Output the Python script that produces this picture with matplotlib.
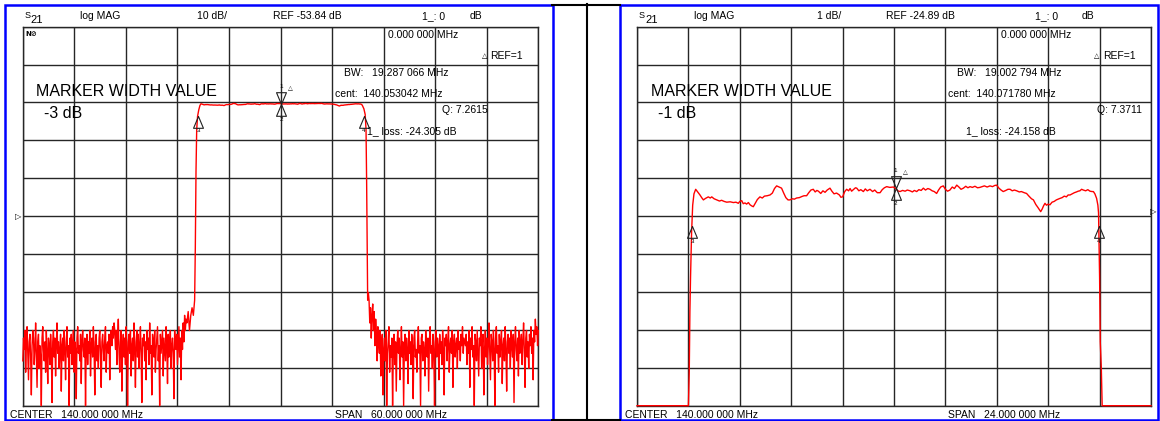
import numpy as np
import matplotlib.pyplot as plt
from matplotlib.patches import Rectangle

plt.rcParams['font.family'] = ['Liberation Sans', 'DejaVu Sans']

W, H = 1160, 421

# analyzer settings of the two screens (wide sweep, narrow sweep)
centers = [140.0, 140.0]
spans = [60.0, 24.0]
scales = [10.0, 1.0]
refs = [-53.84, -24.89]
scale_labels = ['10 dB/', '1 dB/']
ref_labels = ['REF -53.84 dB', 'REF -24.89 dB']
span_labels = ['SPAN   60.000 000 MHz', 'SPAN   24.000 000 MHz']
center_labels = ['CENTER   140.000 000 MHz', 'CENTER   140.000 000 MHz']
bw_labels = ['BW:   19.287 066 MHz', 'BW:   19.002 794 MHz']
cent_labels = ['cent:  140.053042 MHz', 'cent:  140.071780 MHz']
q_labels = ['Q: 7.2615', 'Q: 7.3711']
loss_labels = ['1_ loss: -24.305 dB', '1_ loss: -24.158 dB']
width_labels = ['-3 dB', '-1 dB']

# noise floor below the passband (wide sweep, 110 .. 129 MHz)
noise_lo_db = [-92, -86, -89, -84, -95, -88, -83, -90, -97, -87, -85, -91, -101, -88, -84, -86,
               -93, -89, -82, -90, -99, -87, -85, -94, -88, -91, -104, -86, -83, -89, -92, -87,
               -95, -84, -90, -98, -86, -88, -93, -85, -89, -103, -87, -84, -91, -86, -96, -88,
               -82, -90, -87, -94, -89, -85, -100, -88, -86, -92, -84, -89, -97, -87, -83, -91,
               -88, -104, -86, -90, -85, -93, -88, -84, -95, -87, -89, -102, -86, -83, -90, -88,
               -92, -85, -98, -87, -84, -89, -91, -86, -104, -88, -85, -93, -87, -90, -84, -96,
               -88, -86, -91, -83, -89, -101, -87, -85, -92, -88, -94, -86, -84, -90, -99, -87,
               -85, -89, -92, -86, -83, -95, -88, -87, -90, -85, -97, -86, -84, -88, -83, -86,
               -82, -84,
               -89, -84, -93, -86, -81, -90, -95, -87, -84, -100, -88, -85, -91, -86, -93, -83,
               -89, -104, -87, -85, -90, -84, -96, -88, -86, -92, -82, -89, -99, -87, -84, -91,
               -85, -94, -88, -83, -90, -103, -86, -88, -85, -92, -87, -97, -84, -89, -86, -93,
               -82, -90, -88, -101, -85, -87, -91, -84, -95, -89, -86, -83, -92, -88, -104, -85,
               -90, -87, -84, -96, -86, -89, -92, -83, -88, -98, -85, -91, -87, -84, -94, -88,
               -86, -90, -102, -84, -87, -89, -85, -93, -88, -83, -91, -86, -97, -84, -89, -82,
               -87, -80, -84, -81]

# noise floor above the passband (wide sweep, 150.3 .. 170 MHz)
noise_hi_db = [-76, -82, -78, -86, -80, -77, -84, -79, -88, -81, -85, -92, -83, -87, -90, -84,
               -96, -88, -85, -101, -89, -86, -92, -84, -104, -90, -87, -83, -95, -88, -91, -86,
               -104, -89, -85, -93, -87, -100, -88, -84, -90, -86, -97, -89, -83, -91, -87, -104,
               -88, -85, -92, -86, -89, -98, -84, -90, -87, -93, -85, -88, -102, -86, -84, -91,
               -89, -95, -87, -83, -90, -88, -104, -86, -85, -92, -87, -89, -96, -84, -88, -91,
               -86, -100, -87, -83, -90, -88, -94, -85, -89, -104, -87, -84, -91, -86, -88, -97,
               -85, -90, -87, -93, -84, -89, -101, -86, -88, -85, -92, -87, -83, -95, -88, -86,
               -90, -84, -99, -87, -85, -91, -88, -86, -94, -84, -89, -87, -92, -85, -88, -83,
               -90, -86, -87,
               -88, -85, -93, -87, -90, -84, -99, -86, -89, -83, -91, -88, -104, -85, -87, -92,
               -84, -90, -96, -86, -88, -83, -94, -87, -85, -101, -89, -84, -91, -86, -93, -88,
               -82, -90, -97, -85, -87, -92, -84, -89, -104, -86, -83, -90, -88, -95, -85, -91,
               -87, -84, -98, -88, -86, -92, -83, -89, -100, -87, -85, -90, -86, -94, -84, -88,
               -91, -85, -103, -87, -83, -89, -92, -86, -96, -84, -90, -88, -85, -93, -87, -82,
               -89, -99, -86, -84, -91, -87, -94, -85, -88, -83, -90, -86, -97, -84, -87, -81,
               -85, -83, -88, -84]

# skirts of the wide sweep
wide_rise_f = [129.10, 129.25, 129.40, 129.55, 129.70, 129.85, 130.00, 130.08, 130.16, 130.24,
               130.34, 130.48, 130.62]
wide_rise_db = [-82, -79, -84, -80, -78, -80, -76, -62, -42, -31, -27.5, -25.8, -24.6]
wide_fall_f = [149.70, 149.85, 149.95, 150.02, 150.08, 150.14, 150.22]
wide_fall_db = [-25.5, -27.0, -31, -45, -62, -76, -74]

# passband ripple (read from the 1 dB/div screen)
pass_f = [130.74, 130.82, 130.94, 131.02, 131.10, 131.20, 131.33, 131.42, 131.49, 131.60,
          131.72, 131.85, 131.95, 132.07, 132.19, 132.35, 132.50, 132.62, 132.73, 132.80,
          132.89, 132.96, 133.04, 133.12, 133.20, 133.28, 133.36, 133.43, 133.52, 133.62,
          133.74, 133.85, 133.95, 134.08, 134.21, 134.32, 134.42, 134.52, 134.60, 134.68,
          134.75, 134.85, 134.95, 135.05, 135.14, 135.25, 135.35, 135.45, 135.58, 135.70,
          135.80, 135.92, 136.02, 136.12, 136.23, 136.32, 136.40, 136.47, 136.58, 136.68,
          136.78, 136.88, 137.01, 137.10, 137.20, 137.32, 137.45, 137.52, 137.60, 137.70,
          137.79, 137.88, 137.95, 138.02, 138.12, 138.20, 138.26, 138.36, 138.45, 138.57,
          138.66, 138.75, 138.88, 139.00, 139.10, 139.22, 139.35, 139.45, 139.55, 139.66,
          139.80, 139.97, 140.08, 140.18, 140.28, 140.40, 140.52, 140.62, 140.75, 140.86,
          140.95, 141.06, 141.16, 141.27, 141.37, 141.47, 141.58, 141.68, 141.78, 141.88,
          141.99, 142.08, 142.18, 142.30, 142.40, 142.50, 142.61, 142.72, 142.82, 142.93,
          143.03, 143.13, 143.24, 143.35, 143.45, 143.55, 143.66, 143.78, 143.90, 144.01,
          144.12, 144.22, 144.35, 144.48, 144.60, 144.70, 144.79, 144.90, 145.00, 145.10,
          145.22, 145.32, 145.42, 145.52, 145.62, 145.73, 145.85, 145.95, 146.08, 146.19,
          146.30, 146.42, 146.51, 146.62, 146.72, 146.80, 146.85, 146.92, 146.98, 147.05,
          147.12, 147.20, 147.28, 147.38, 147.48, 147.58, 147.66, 147.75, 147.85, 147.95,
          148.05, 148.13, 148.22, 148.32, 148.42, 148.52, 148.60, 148.68, 148.76, 148.84,
          148.95, 149.05, 149.15, 149.25, 149.31, 149.38, 149.46, 149.52]
pass_db = [-24.18, -24.24, -24.33, -24.40, -24.46, -24.42, -24.38, -24.41, -24.38, -24.43,
           -24.46, -24.49, -24.47, -24.50, -24.52, -24.51, -24.53, -24.52, -24.55, -24.50,
           -24.48, -24.56, -24.54, -24.57, -24.53, -24.59, -24.62, -24.64, -24.55, -24.45,
           -24.38, -24.41, -24.36, -24.35, -24.33, -24.28, -24.16, -24.09, -24.11, -24.13,
           -24.15, -24.28, -24.40, -24.46, -24.46, -24.43, -24.44, -24.41, -24.40, -24.37,
           -24.35, -24.35, -24.27, -24.20, -24.18, -24.25, -24.21, -24.23, -24.29, -24.22,
           -24.26, -24.20, -24.15, -24.23, -24.30, -24.28, -24.33, -24.39, -24.38, -24.24,
           -24.18, -24.22, -24.16, -24.23, -24.18, -24.14, -24.15, -24.22, -24.19, -24.24,
           -24.17, -24.22, -24.18, -24.24, -24.20, -24.27, -24.27, -24.19, -24.14, -24.11,
           -24.13, -24.12, -24.16, -24.22, -24.24, -24.21, -24.23, -24.20, -24.22, -24.25,
           -24.21, -24.24, -24.19, -24.21, -24.15, -24.20, -24.16, -24.18, -24.22, -24.24,
           -24.29, -24.20, -24.12, -24.09, -24.18, -24.23, -24.20, -24.12, -24.16, -24.07,
           -24.12, -24.18, -24.15, -24.10, -24.14, -24.11, -24.13, -24.10, -24.14, -24.13,
           -24.11, -24.09, -24.12, -24.09, -24.11, -24.08, -24.07, -24.15, -24.20, -24.24,
           -24.21, -24.18, -24.18, -24.22, -24.20, -24.22, -24.25, -24.24, -24.27, -24.29,
           -24.36, -24.43, -24.46, -24.58, -24.66, -24.73, -24.77, -24.70, -24.62, -24.55,
           -24.60, -24.57, -24.59, -24.52, -24.50, -24.46, -24.44, -24.42, -24.40, -24.36,
           -24.38, -24.33, -24.33, -24.30, -24.27, -24.25, -24.23, -24.22, -24.18, -24.20,
           -24.22, -24.19, -24.23, -24.24, -24.24, -24.30, -24.42, -24.60]

# skirts of the narrow sweep
narrow_rise_f = [128.00, 130.30, 130.40, 130.44, 130.47, 130.50, 130.55, 130.60, 130.66]
narrow_rise_db = [-35, -35, -30.5, -29.0, -27.4, -26.5, -25.3, -24.6, -24.3]
narrow_fall_f = [149.55, 149.60, 149.63, 149.68, 149.72, 152.00]
narrow_fall_db = [-24.8, -26.5, -28.2, -28.9, -35, -35]

# markers: 1 center (above), 2 center (below), 3 lower edge, 4 upper edge
marker_f = [[140.053, 140.053, 130.41, 149.70], [140.072, 140.072, 130.57, 149.57]]
marker_db = [[-24.305, -24.305, -27.3, -27.3], [-24.158, -24.158, -25.158, -25.158]]
marker_num = ['1', '2', '3', '4']

wide_f = np.concatenate([np.linspace(110, 129.0, len(noise_lo_db)), wide_rise_f, pass_f,
                         wide_fall_f, np.linspace(150.3, 170, len(noise_hi_db))])
wide_db = np.concatenate([noise_lo_db, wide_rise_db, pass_db, wide_fall_db, noise_hi_db])
narrow_f = np.concatenate([narrow_rise_f, pass_f, narrow_fall_f])
narrow_db = np.concatenate([narrow_rise_db, pass_db, narrow_fall_db])
traces = [(wide_f, wide_db), (narrow_f, narrow_db)]

# screen geometry in pixels
grid_x = [(22.8, 538.3), (637.0, 1151.0)]
grid_y = (26.7, 405.7)
frames = [(5, 4.5, 552.5, 419.5), (620, 4.5, 1158, 419.5)]

fig = plt.figure(figsize=(W / 100, H / 100), dpi=100)
fig.patch.set_facecolor('white')


def fx(x):
    return x / W


def fy(y):
    return 1 - y / H


def txt(x, y, s, size=7.5, **kw):
    fig.text(fx(x), fy(y), s, fontsize=size, va='center', **kw)


up_tri = [(0, 0), (0.42, -1), (-0.42, -1), (0, 0)]
down_tri = [(0, 0), (0.42, 1), (-0.42, 1), (0, 0)]

# cell borders between the two screens
for yy in (4.5, 420):
    fig.add_artist(plt.Line2D([fx(552), fx(620)], [fy(yy), fy(yy)], color='black', lw=1.5))
fig.add_artist(plt.Line2D([fx(587), fx(587)], [fy(4), fy(421)], color='black', lw=1.5))

for i in range(2):
    gx0, gx1 = grid_x[i]
    gw = (gx1 - gx0) / 10
    fl, ft, fr, fb = frames[i]
    fig.add_artist(Rectangle((fx(fl), fy(fb)), fx(fr - fl), (fb - ft) / H, fill=False,
                             edgecolor='#0000ff', lw=1.8, transform=fig.transFigure))

    ax = fig.add_axes([fx(gx0), fy(grid_y[1]), fx(gx1 - gx0), (grid_y[1] - grid_y[0]) / H])
    lo, hi = centers[i] - spans[i] / 2, centers[i] + spans[i] / 2
    bot, top = refs[i] - 5 * scales[i], refs[i] + 5 * scales[i]
    ax.set_xlim(lo, hi)
    ax.set_ylim(bot, top)
    ax.set_xticks(np.linspace(lo, hi, 11))
    ax.set_yticks(np.linspace(bot, top, 11))
    ax.grid(True, color='#262626', lw=1.0)
    ax.tick_params(length=0, labelbottom=False, labelleft=False)
    for sp in ax.spines.values():
        sp.set_color('#262626')
        sp.set_linewidth(1.0)

    f, db = traces[i]
    ax.plot(f, np.clip(db, bot, top), color='#ff0000', lw=1.0, clip_on=False, zorder=3)

    for k in range(4):
        mf, md = marker_f[i][k], marker_db[i][k]
        if k == 0:
            ax.plot(mf, md, marker=down_tri, ms=17, mfc='none', mec='#202020', mew=0.8,
                    ls='none', zorder=5)
            ax.annotate('1', (mf, md), xytext=(0, 11), textcoords='offset points', fontsize=4.5,
                        ha='center', va='bottom')
            ax.annotate('\u25b3', (mf, md), xytext=(5, 10), textcoords='offset points',
                        fontsize=4.5, ha='left', va='bottom', family='DejaVu Sans')
        else:
            ax.plot(mf, md, marker=up_tri, ms=17, mfc='none', mec='#202020', mew=0.8,
                    ls='none', zorder=5)
            ax.annotate(marker_num[k], (mf, md), xytext=(0, -9), textcoords='offset points',
                        fontsize=4.5, ha='center', va='top')

    def at(d):
        return gx0 + d * gw

    # header line
    txt(gx0 + 2, 15, 'S', 6.5)
    txt(gx0 + 8, 20, '21', 8)
    txt(at(1.1), 16, 'log MAG')
    txt(at(3.97), 16, scale_labels[i], ha='right')
    txt(at(4.85), 16, ref_labels[i])
    txt(at(7.74), 16, '1_: 0')
    txt(at(8.66), 16, 'dB')

    # marker readout
    txt(at(7.08), 34.5, '0.000 000 MHz')
    txt(at(8.9), 56, '\u25b3', 5, family='DejaVu Sans')
    txt(at(9.06), 56, 'REF=1')
    txt(at(6.23), 73, bw_labels[i])
    txt(at(6.05), 94, cent_labels[i])
    txt(at(8.13) if i == 0 else at(8.95), 110, q_labels[i])
    txt(at(6.68) if i == 0 else at(6.4), 131, loss_labels[i])

    txt(gx0 + 13.5, 92, 'MARKER WIDTH VALUE', 11.5)
    txt(gx0 + 21, 113, width_labels[i], 11.5)

    # footer
    txt(fl + 5, 414.5, center_labels[i])
    txt(at(6.06), 414.5, span_labels[i])

# reference position arrows
txt(15, 216.5, '\u25b7', 6, family='DejaVu Sans')
txt(1150, 212, '\u25b7', 6, family='DejaVu Sans')
txt(grid_x[0][0] + 3, 34.5, 'N\u2298', 5, weight='bold', family='DejaVu Sans')

fig.savefig('out.png', dpi=100)
